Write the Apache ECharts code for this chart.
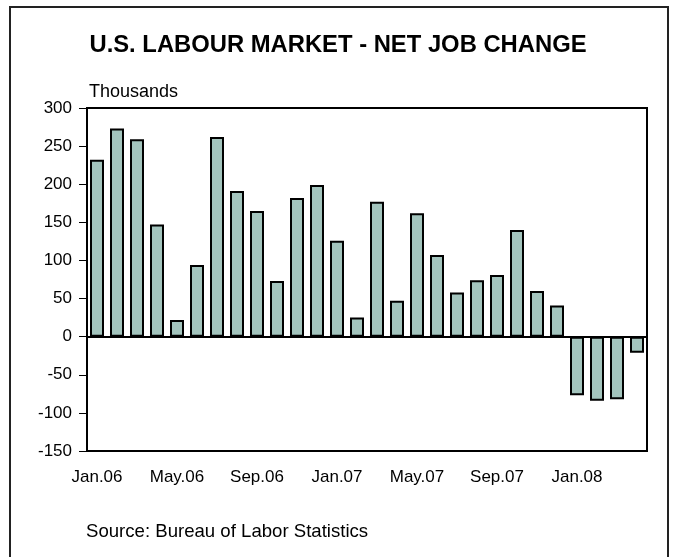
<!DOCTYPE html>
<html>
<head>
<meta charset="utf-8">
<script src="https://cdn.jsdelivr.net/npm/echarts@6/dist/echarts.min.js"></script>
<style>
html,body{margin:0;padding:0;background:#fff;}
#chart{width:676px;height:557px;}
</style>
</head>
<body>
<div id="chart"></div>
<script>
var categories = ['Jan.06','Feb.06','Mar.06','Apr.06','May.06','Jun.06','Jul.06','Aug.06','Sep.06','Oct.06','Nov.06','Dec.06',
  'Jan.07','Feb.07','Mar.07','Apr.07','May.07','Jun.07','Jul.07','Aug.07','Sep.07','Oct.07','Nov.07','Dec.07',
  'Jan.08','Feb.08','Mar.08','Apr.08'];
var jobChange = [232, 273, 259, 147, 22, 94, 262, 191, 165, 73, 182, 199,
  126, 25, 177, 47, 162, 107, 58, 74, 81, 140, 60, 41,
  -77, -84, -82, -21];
var yTicks = [-150, -100, -50, 0, 50, 100, 150, 200, 250, 300];
var titleText = 'U.S. LABOUR MARKET - NET JOB CHANGE';
var unitText = 'Thousands';
var sourceText = 'Source: Bureau of Labor Statistics';

var FONT = '"Liberation Sans", Arial, sans-serif';
var chart = echarts.init(document.getElementById('chart'), null, {renderer: 'canvas'});
chart.setOption({
  animation: false,
  backgroundColor: '#fff',
  title: {
    text: titleText,
    left: 'center',
    top: 28,
    textStyle: {fontFamily: FONT, fontSize: 23.8, fontWeight: 'bold', color: '#000'}
  },
  graphic: [
    {type: 'rect', shape: {x: 10, y: 7, width: 658, height: 560}, style: {fill: 'none', stroke: '#222', lineWidth: 2}, silent: true},
    {type: 'text', left: 89, top: 83, style: {text: unitText, font: '18px "Liberation Sans", Arial, sans-serif', fill: '#000'}},
    {type: 'text', left: 86, top: 522, style: {text: sourceText, font: '18.6px "Liberation Sans", Arial, sans-serif', fill: '#000'}}
  ],
  grid: {left: 87, right: 29, top: 108, bottom: 106, show: true, borderColor: '#000', borderWidth: 2, backgroundColor: '#fff'},
  xAxis: {
    type: 'category',
    data: categories,
    axisLine: {onZero: false, show: false},
    axisTick: {show: false},
    axisLabel: {interval: 3, margin: 18, fontFamily: FONT, fontSize: 17, color: '#000'}
  },
  yAxis: {
    type: 'value',
    min: yTicks[0],
    max: yTicks[yTicks.length - 1],
    interval: 50,
    splitLine: {show: false},
    axisLine: {show: true, lineStyle: {color: '#000', width: 2}},
    axisTick: {show: true, length: 8, lineStyle: {color: '#000', width: 1}},
    axisLabel: {margin: 15, fontFamily: FONT, fontSize: 17, color: '#000'}
  },
  series: [{
    type: 'bar',
    data: jobChange,
    barCategoryGap: '30%',
    itemStyle: {color: '#a3c4bd', borderColor: '#000', borderWidth: 2},
    markLine: {
      silent: true,
      symbol: 'none',
      label: {show: false},
      lineStyle: {color: '#000', width: 2, type: 'solid'},
      data: [{yAxis: 0}]
    }
  }]
});
</script>
</body>
</html>
